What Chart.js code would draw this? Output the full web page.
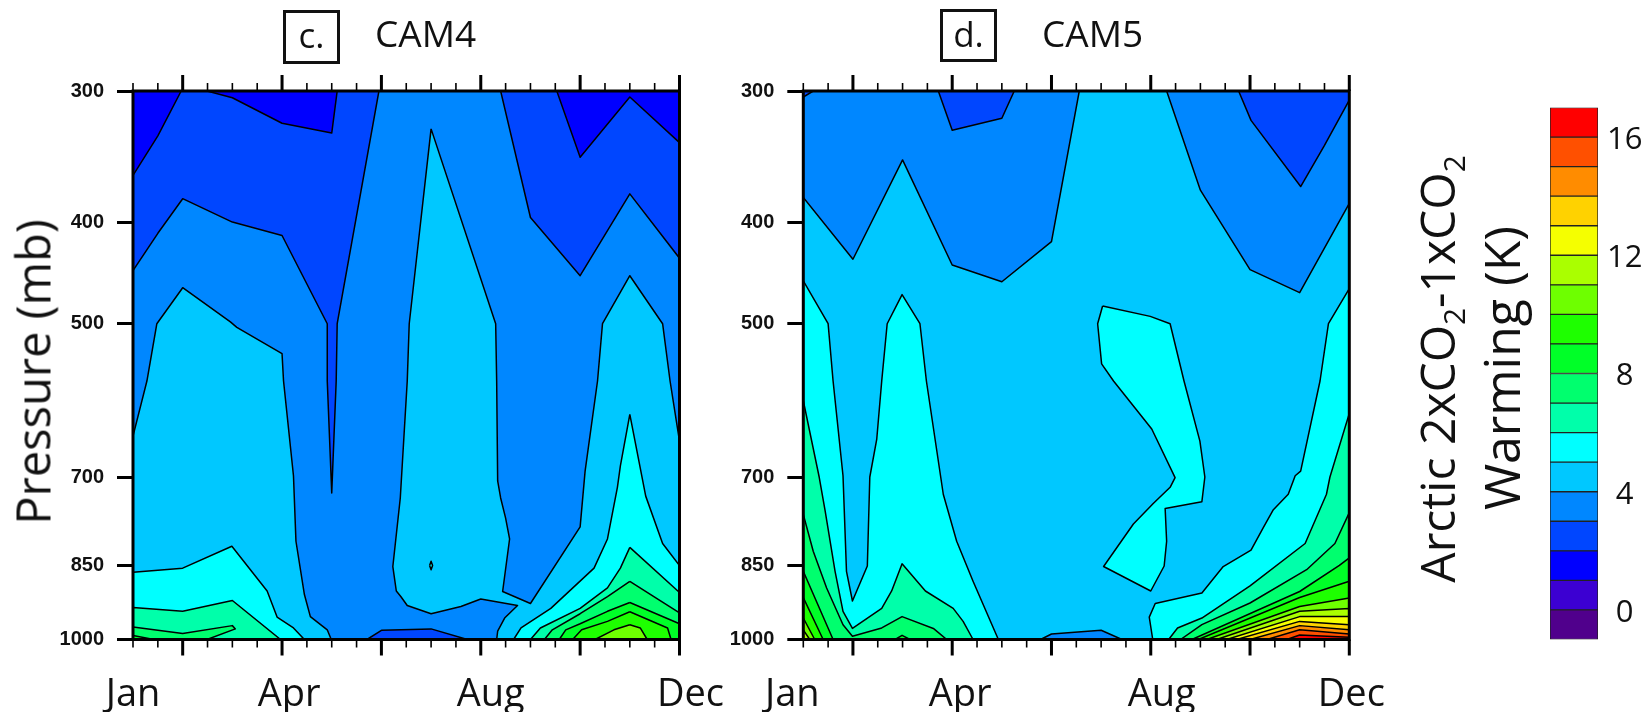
<!DOCTYPE html>
<html>
<head>
<meta charset="utf-8">
<title>Arctic warming CAM4 CAM5</title>
<script src="https://cdn.jsdelivr.net/npm/chart.js@4"></script>
<style>
  html, body { margin: 0; padding: 0; background: #fff; width: 1652px; height: 712px; overflow: hidden; }
  canvas { position: absolute; top: 0; }
  .txt { position: absolute; font-family: "Open Sans", sans-serif; color: #111; white-space: nowrap; line-height: 1; }
  .box { position: absolute; border: 3px solid #111; box-sizing: border-box; text-align: center; font-family: "Open Sans", sans-serif; font-size: 35px; line-height: 44px; color: #111; }
  .rot { transform: translate(-50%, -50%) rotate(-90deg); transform-origin: center; }
  sub { font-size: 62%; line-height: 0; vertical-align: -0.32em; }
</style>
</head>
<body>
<canvas id="panelC" width="760" height="712" style="left:0"></canvas>
<canvas id="panelD" width="720" height="712" style="left:670px"></canvas>
<canvas id="bar" width="252" height="712" style="left:1400px"></canvas>

<div class="box" style="left:283px;top:10px;width:57px;height:54px">c.</div>
<div class="txt" style="left:375px;top:14px;font-size:37px">CAM4</div>
<div class="box" style="left:940px;top:9px;width:57px;height:53px">d.</div>
<div class="txt" style="left:1042px;top:14px;font-size:37px">CAM5</div>
<div class="txt rot" style="left:33px;top:372px;font-size:47px">Pressure (mb)</div>
<div class="txt rot" style="left:1437px;top:369px;font-size:48px">Arctic 2xCO<sub>2</sub>-1xCO<sub>2</sub></div>
<div class="txt rot" style="left:1501px;top:368px;font-size:50px">Warming (K)</div>

<script>
// 軸の目盛
const pressureTicks = [300, 400, 500, 700, 850, 1000];
const monthNames = ['Jan', 'Apr', 'Aug', 'Dec'];
const monthValues = [1, 4, 8, 12];
const majorMonths = [2, 4, 6, 8, 10, 12];
const minorMonths = [1, 1.5, 2.5, 3, 3.5, 4.5, 5, 5.5, 6.5, 7, 7.5, 8.5, 9, 9.5, 10.5, 11, 11.5];
const barTicks = [0, 4, 8, 12, 16];
const barLevels = [-1, 0, 1, 2, 3, 4, 5, 6, 7, 8, 9, 10, 11, 12, 13, 14, 15, 16, 17];

// カラー（下から上へ）
const purple = '#50008c', indigo = '#3c00d2', blue1 = '#0000ff', blue2 = '#0046ff', blue3 = '#0087ff',
      blue4 = '#00c8ff', cyan = '#00ffff', teal = '#00ffaa', green1 = '#00ff6e', green2 = '#00ff28',
      green3 = '#1eff00', lime1 = '#6eff00', lime2 = '#aaff00', yellow = '#f5ff00', gold = '#ffd200',
      orange1 = '#ff8c00', orange2 = '#ff5000', red = '#ff0000';
const barColors = [purple, indigo, blue1, blue2, blue3, blue4, cyan, teal, green1, green2, green3, lime1, lime2, yellow, gold, orange1, orange2, red];

// 等値線ポリゴン [month, pressure] パネルc CAM4
const fullPlot = [[1, 300], [12, 300], [12, 1000], [1, 1000]];
const c2Left = [[1, 300], [5.95, 300], [5.11, 500], [5.09, 567], [5, 725], [4.91, 567], [4.91, 500], [4, 412], [3, 400], [2, 380], [1.5, 410], [1, 445]];
const c2Right = [[8.4, 300], [9, 396], [10, 450], [11, 376], [12, 433], [12, 300]];
const c2Bottom = [[5.71, 1000], [6, 980], [6.4, 979], [7, 977], [7.73, 1000]];
const c1Left = [[1, 361], [1.5, 331], [1.97, 300], [1, 300]];
const c1Mid = [[2.49, 300], [3, 304.5], [4, 322], [5, 329], [5.11, 300]];
const c1Right = [[9.53, 300], [10, 347], [11, 304], [12, 336], [12, 300]];
const c4Left = [[1, 640], [1.28, 567], [1.48, 500], [2, 462], [2.96, 498], [3.09, 504], [4, 534], [4.03, 567], [4.23, 698], [4.28, 806], [4.45, 906], [4.57, 951], [4.91, 979], [4.99, 1000], [1, 1000]];
const c4Right = [[7, 326], [8.3, 500], [8.32, 567], [8.34, 706], [8.4, 733], [8.5, 766], [8.58, 802], [8.44, 900], [9, 924], [10, 781], [10.1, 691], [10.35, 567], [10.45, 500], [11, 450], [11.66, 500], [11.81, 567], [12, 647], [12, 1000], [8.32, 1000], [8.34, 982], [8.48, 954], [8.74, 928], [8, 915], [7.6, 930], [7, 945], [6.52, 928], [6.39, 910], [6.3, 899], [6.23, 852], [6.38, 733], [6.52, 567], [6.56, 500]];
const c4Dot = [[6.97, 850], [7, 842], [7.03, 850], [7, 858]];
const c5Left = [[1, 863], [2, 855], [2.99, 815], [3.7, 899], [3.9, 952], [4.23, 975], [4.45, 1000], [1, 1000]];
const c5Right = [[11, 610], [11.32, 730], [11.66, 810], [12, 850], [12, 1000], [8.66, 1000], [8.81, 975], [9.41, 934], [10.28, 855], [10.55, 802], [10.75, 716], [10.81, 683]];
const c6Left = [[1, 932], [2, 940], [3, 918], [3.97, 1000], [1, 1000]];
const c6Right = [[11, 817], [12, 902], [12, 1000], [9, 1000], [9.2, 975], [10, 934], [10.55, 893], [10.81, 855]];
const c7Left = [[1, 973], [2, 987], [3, 970], [3.06, 977], [2.49, 1000], [1, 1000]];
const c7Right = [[11, 880], [12, 943], [12, 1000], [9.28, 1000], [9.44, 979], [10, 945], [10.55, 910]];
const c8Left = [[1, 991], [1.42, 1000], [1, 1000]];
const c8Right = [[11, 922], [12, 966], [12, 1000], [9.58, 1000], [9.71, 979], [10, 966], [10.55, 940]];
const c9Right = [[11, 941], [11.76, 975], [11.83, 1000], [9.85, 1000], [10.03, 979], [10.55, 961]];
const c10Right = [[11, 968], [11.21, 975], [11.35, 1000], [10.3, 1000], [10.68, 979]];

// パネルd CAM5
const d3Left = [[1, 300], [6.56, 300], [6, 417.6], [5, 456], [4, 439.5], [3, 349], [2, 434], [1, 379]];
const d3Right = [[8.32, 300], [9, 373], [10, 444], [11, 467], [12, 384], [12, 300]];
const d3Bottom = [[5.78, 1000], [6, 988], [7, 980], [7.42, 1000]];
const d2Corner = [[1, 300], [1.2, 300], [1, 304]];
const d2Mid = [[3.72, 300], [4, 327], [5, 318.5], [5.25, 300]];
const d2Right = [[9.77, 300], [10.02, 320], [11.02, 370], [11.5, 338], [12, 306], [12, 300]];
const d5Left = [[1, 455], [1.5, 500], [1.6, 567], [1.8, 698], [1.87, 861], [1.99, 919], [2.29, 851], [2.34, 700], [2.48, 644], [2.58, 567], [2.69, 500], [2.99, 469], [3.35, 500], [3.48, 567], [3.82, 727], [4.09, 806], [4.42, 880], [4.93, 1000], [1, 1000]];
const d5Right = [[12, 463], [11.58, 500], [11.41, 567], [11.02, 691], [10.91, 698], [10.77, 727], [10.47, 752], [10.27, 782], [10.02, 822], [9.46, 852], [9.03, 903], [8.09, 924], [7.97, 952], [8.04, 1000], [12, 1000]];
const d5Island = [[7.03, 481], [7.99, 492], [8.39, 500], [8.67, 567], [8.99, 647], [9.09, 700], [9.03, 739], [8.29, 750], [8.32, 806], [8.27, 851], [8, 899], [7.05, 852], [7.65, 776], [8.05, 742], [8.39, 716], [8.49, 701], [8.02, 630], [7.25, 567], [7.01, 546], [6.93, 500]];
const d6Left = [[1, 592], [1.32, 700], [1.44, 754], [1.64, 861], [1.8, 940], [1.99, 976], [2.58, 934], [2.78, 899], [2.99, 847], [3.46, 899], [4.02, 934], [4.22, 961], [4.42, 1000], [1, 1000]];
const d6Right = [[12, 609], [11.61, 700], [11.54, 727], [11.11, 810], [10, 889], [9.03, 954], [8.54, 975], [8.36, 1000], [12, 1000]];
const d7Left = [[1, 760], [1.2, 824], [1.47, 893], [1.8, 968], [1.99, 993], [2.58, 975], [2.99, 951], [3.62, 976], [3.89, 1000], [1, 1000]];
const d7Right = [[12, 757], [11.71, 810], [11.14, 858], [10, 923], [9.03, 968], [8.6, 1000], [12, 1000]];
const d8Left = [[1, 861], [1.6, 1000], [1, 1000]];
const d8Mid = [[2.85, 1000], [2.99, 991], [3.15, 1000]];
const d8Right = [[8.83, 1000], [11, 900], [11.8, 850], [12, 836], [12, 1000]];
const d9Left = [[1, 912], [1.4, 1000], [1, 1000]];
const d9Right = [[8.96, 1000], [11, 912], [12, 880], [12, 1000]];
const d10Left = [[1, 954], [1.23, 1000], [1, 1000]];
const d10Right = [[9.13, 1000], [11, 930], [12, 913], [12, 1000]];
const d11Left = [[1, 979], [1.13, 1000], [1, 1000]];
const d11Right = [[9.33, 1000], [11, 940], [12, 934], [12, 1000]];
const d12Right = [[9.53, 1000], [11, 951], [12, 951], [12, 1000]];
const d13Right = [[9.73, 1000], [11, 961], [12, 968], [12, 1000]];
const d14Right = [[10, 1000], [11, 970], [12, 979], [12, 1000]];
const d15Right = [[10.34, 1000], [11, 979], [12, 988], [12, 1000]];
const d16Right = [[10.74, 1000], [11, 990], [12, 995], [12, 1000]];

const layersC = [
    [blue3, fullPlot], [blue2, c2Left], [blue2, c2Right], [blue2, c2Bottom],
    [blue1, c1Left], [blue1, c1Mid], [blue1, c1Right],
    [blue4, c4Left], [blue4, c4Right], [cyan, c4Dot],
    [cyan, c5Left], [cyan, c5Right], [teal, c6Left], [teal, c6Right],
    [green1, c7Left], [green1, c7Right], [green2, c8Left], [green2, c8Right],
    [green3, c9Right], [lime1, c10Right]
];
const layersD = [
    [blue4, fullPlot], [blue3, d3Left], [blue3, d3Right], [blue3, d3Bottom],
    [blue2, d2Corner], [blue2, d2Mid], [blue2, d2Right],
    [cyan, d5Left], [cyan, d5Right], [cyan, d5Island],
    [teal, d6Left], [teal, d6Right], [green1, d7Left], [green1, d7Right],
    [green2, d8Left], [green2, d8Mid], [green2, d8Right],
    [green3, d9Left], [green3, d9Right], [lime1, d10Left], [lime1, d10Right],
    [lime2, d11Left], [lime2, d11Right], [yellow, d12Right], [gold, d13Right],
    [orange1, d14Right], [orange2, d15Right], [red, d16Right]
];

// 閉じた領域を塗る＋枠と月の目盛
const contourPlugin = {
    id: 'contour',
    beforeDatasetDraw(chart, args) {
        const pts = args.meta.data;
        const ctx = chart.ctx;
        ctx.save();
        ctx.beginPath();
        pts.forEach((p, i) => i ? ctx.lineTo(p.x, p.y) : ctx.moveTo(p.x, p.y));
        ctx.closePath();
        ctx.fillStyle = chart.data.datasets[args.index].fillColor;
        ctx.fill();
        ctx.restore();
    },
    afterDatasetsDraw(chart, args, opts) {
        const ctx = chart.ctx, a = chart.chartArea, x = chart.scales.x;
        ctx.save();
        ctx.strokeStyle = '#000';
        ctx.lineWidth = 3;
        ctx.strokeRect(a.left, a.top, a.right - a.left, a.bottom - a.top);
        const tick = (m, len, w) => {
            const px = x.getPixelForValue(m);
            ctx.lineWidth = w;
            ctx.beginPath();
            ctx.moveTo(px, a.top - len); ctx.lineTo(px, a.top);
            ctx.moveTo(px, a.bottom); ctx.lineTo(px, a.bottom + len);
            ctx.stroke();
        };
        minorMonths.forEach(m => tick(m, 8, 1.6));
        majorMonths.forEach(m => tick(m, 16, 3));
        ctx.fillStyle = '#111';
        ctx.font = '38px "Open Sans", sans-serif';
        ctx.textAlign = 'center';
        ctx.textBaseline = 'alphabetic';
        monthNames.forEach((name, i) => {
            ctx.fillText(name, x.getPixelForValue(monthValues[i]) + opts.labelShift[i], 706);
        });
        ctx.restore();
    }
};

const makePanel = (id, layers, padLeft, padRight, labelShift) => {
    new Chart(document.getElementById(id), {
        type: 'scatter',
        data: {
            datasets: layers.map((l, i) => ({
                data: l[1].concat([l[1][0]]).map(p => ({ x: p[0], y: p[1] })),
                fillColor: l[0],
                showLine: true,
                order: -i,
                borderColor: '#000',
                borderWidth: i === 0 ? 0 : 1.5,
                borderJoinStyle: 'round',
                pointRadius: 0,
                pointHoverRadius: 0,
                tension: 0
            }))
        },
        options: {
            responsive: false,
            animation: false,
            events: [],
            layout: { padding: { top: 91, bottom: 72.5, left: 0, right: padRight } },
            plugins: { legend: { display: false }, tooltip: { enabled: false }, contour: { labelShift } },
            scales: {
                x: { type: 'linear', min: 1, max: 12, display: false },
                y: {
                    type: 'logarithmic',
                    reverse: true,
                    min: 300,
                    max: 1000,
                    afterBuildTicks: s => { s.ticks = pressureTicks.map(v => ({ value: v })); },
                    afterFit: s => { s.width = padLeft; },
                    border: { display: false },
                    grid: { drawOnChartArea: false, tickLength: 16, tickWidth: 3, tickColor: '#000' },
                    ticks: {
                        autoSkip: false,
                        padding: 13,
                        color: '#111',
                        font: { family: '"Liberation Sans"', weight: 'bold', size: 20 },
                        callback: v => String(v)
                    }
                }
            }
        },
        plugins: [contourPlugin]
    });
};

makePanel('panelC', layersC, 133, 80.5, [0, 7, 10, 11]);
makePanel('panelD', layersD, 133.3, 40.7, [-11, 8, 11, 2]);

// カラーバー
new Chart(document.getElementById('bar'), {
    type: 'bar',
    data: {
        labels: ['K'],
        datasets: barColors.map((c, i) => ({
            data: [[barLevels[i], barLevels[i + 1]]],
            backgroundColor: c,
            borderColor: '#222',
            borderWidth: 1,
            borderSkipped: false,
            grouped: false,
            barPercentage: 1,
            categoryPercentage: 1
        }))
    },
    options: {
        responsive: false,
        animation: false,
        events: [],
        layout: { padding: { top: 107.5, bottom: 72.5, left: 150, right: 0 } },
        plugins: { legend: { display: false }, tooltip: { enabled: false } },
        scales: {
            x: { display: false },
            y: {
                position: 'right',
                min: -1,
                max: 17,
                afterBuildTicks: s => { s.ticks = barTicks.map(v => ({ value: v })); },
                afterFit: s => { s.width = 54; },
                border: { display: false },
                grid: { display: false, drawTicks: false },
                ticks: {
                    autoSkip: false,
                    padding: 9,
                    labelOffset: 3,
                    crossAlign: 'center',
                    color: '#111',
                    font: { family: '"Open Sans"', size: 31 }
                }
            }
        }
    }
});
</script>
</body>
</html>
